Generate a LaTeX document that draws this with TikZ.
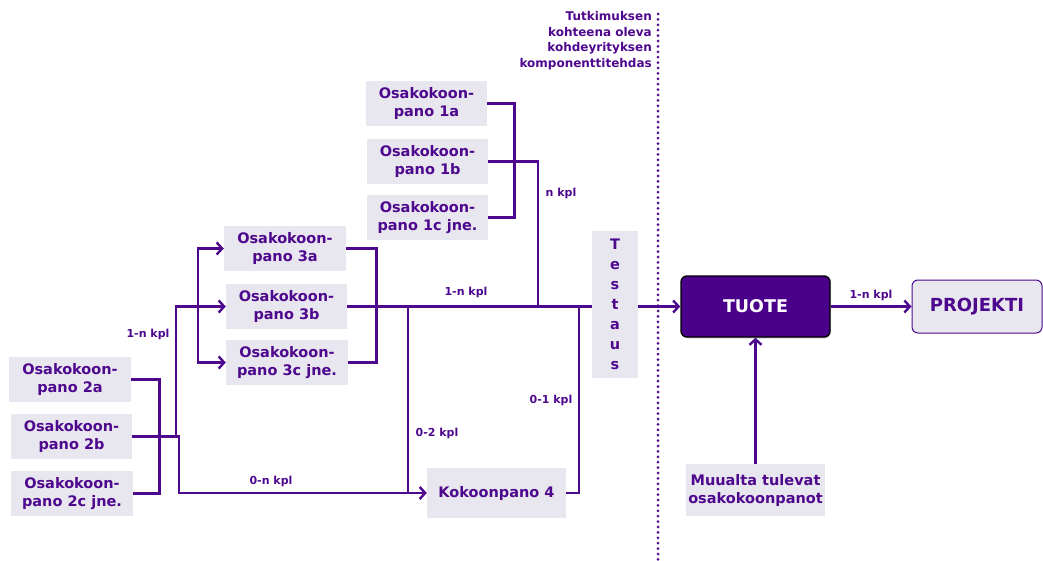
\documentclass[tikz,border=0pt]{standalone}
\usepackage{fontspec}
\setmainfont{DejaVu Sans}
\usetikzlibrary{arrows.meta,shadows}
\definecolor{ink}{RGB}{78,8,142}
\definecolor{boxgray}{RGB}{232,230,238}
\definecolor{prodfill}{RGB}{75,0,140}
\tikzset{
  part/.style={fill=boxgray, text=ink, font=\bfseries\fontsize{14.5}{18}\selectfont,
    align=center, inner sep=0pt, minimum width=121pt, minimum height=45pt},
  conn/.style={draw=ink, line width=2.8pt, line join=miter},
  arr/.style={conn, -{Straight Barb[length=5.5pt,width=12pt,line width=2.4pt]}},
  qty/.style={text=ink, font=\bfseries\fontsize{11}{13}\selectfont, inner sep=0pt},
}
\begin{document}
\begin{tikzpicture}[x=1pt,y=-1pt]
\useasboundingbox (0,0) rectangle (1043,561);

% sub-assemblies, first tier
\node[part] (n1a) at (426.5,103.5) {Osakokoon-\\pano 1a};
\node[part] (n1b) at (427.5,161.5) {Osakokoon-\\pano 1b};
\node[part] (n1c) at (427.5,217.5) {Osakokoon-\\pano 1c jne.};
% second tier
\node[part, minimum width=122pt] (n3a) at (285,248.5) {Osakokoon-\\pano 3a};
\node[part] (n3b) at (286.5,306.5) {Osakokoon-\\pano 3b};
\node[part, minimum width=122pt] (n3c) at (287,362.5) {Osakokoon-\\pano 3c jne.};
% third tier
\node[part, minimum width=122pt] (n2a) at (70,379.5) {Osakokoon-\\pano 2a};
\node[part] (n2b) at (71.5,436.5) {Osakokoon-\\pano 2b};
\node[part, minimum width=122pt] (n2c) at (72,493.5) {Osakokoon-\\pano 2c jne.};
\node[part, minimum width=139pt, minimum height=50pt] (k4) at (496.5,493) {Kokoonpano 4};
% testing station
\node[part, minimum width=46pt, minimum height=147pt, font=\bfseries\fontsize{14.5}{20}\selectfont]
  (test) at (615,304.5) {T\\e\\s\\t\\a\\u\\s};
% product and project
\node[fill=prodfill, draw=black, line width=1.4pt, rounded corners=6pt,
  minimum width=149pt, minimum height=61pt, text=white,
  font=\bfseries\fontsize{17.5}{20}\selectfont,
  drop shadow={opacity=0.35, shadow xshift=1pt, shadow yshift=-1.5pt}]
  (tuote) at (755.5,306.5) {TUOTE};
\node[fill=boxgray, draw=ink, line width=1pt, rounded corners=6pt,
  minimum width=130pt, minimum height=53pt, text=ink,
  font=\bfseries\fontsize{18}{20}\selectfont]
  (proj) at (977,306.5) {PROJEKTI};
\node[part, minimum width=139pt, minimum height=52pt] (muu) at (755.5,490)
  {Muualta tulevat\\osakokoonpanot};

% company boundary
\draw[ink, line width=3pt, line cap=round, dash pattern=on 0pt off 5.4pt] (658,14) -- (658,561);
\node[qty, font=\bfseries\fontsize{12}{15.8}\selectfont, align=right, anchor=north east]
  (site) at (652,11) {Tutkimuksen\\kohteena oleva\\kohdeyrityksen\\komponenttitehdas};

% junction points
\coordinate (jn) at (538,306.5);
\coordinate (jf) at (198,306.5);
\coordinate (jz) at (179,493);
\coordinate (jk) at (408,306.5);
\coordinate (jk4) at (408,493);
\coordinate (jr) at (579,306.5);

% first tier into the main line
\draw[conn] (n1a.east) -- ++(27.5,0) |- (n1c.east);
\draw[conn] (n1b.east) -| (jn);
% second tier bracket and main line
\draw[conn] (n3a.east) -- ++(30,0) |- (n3c.east);
\draw[conn] (n3b.east) -- (n3b.east -| test.west);
% third tier bracket and feeds
\draw[conn] (n2a.east) -- ++(28,0) |- (n2c.east);
\draw[arr] (n2b.east) -- (176,436.5) |- (n3b.west);
\draw[arr] (jf) |- (n3a.west);
\draw[arr] (jf) |- (n3c.west);
\draw[arr] (n2b.east) -| (jz) -- (k4.west);
\draw[conn] (jk) -- (jk4);
\draw[conn] (k4.east) -| (jr);
% to product and project
\draw[arr] (tuote.west -| test.east) -- (tuote.west);
\draw[arr] (tuote.east) -- (proj.west);
\draw[arr] (muu.north) -- (tuote.south);

% quantities
\node[qty] (q1) at (561,193) {n kpl};
\node[qty] (q2) at (466,292) {1-n kpl};
\node[qty] (q3) at (148,334) {1-n kpl};
\node[qty] (q4) at (271,481) {0-n kpl};
\node[qty] (q5) at (437,433) {0-2 kpl};
\node[qty] (q6) at (551,400) {0-1 kpl};
\node[qty] (q7) at (871,295) {1-n kpl};
\end{tikzpicture}
\end{document}
